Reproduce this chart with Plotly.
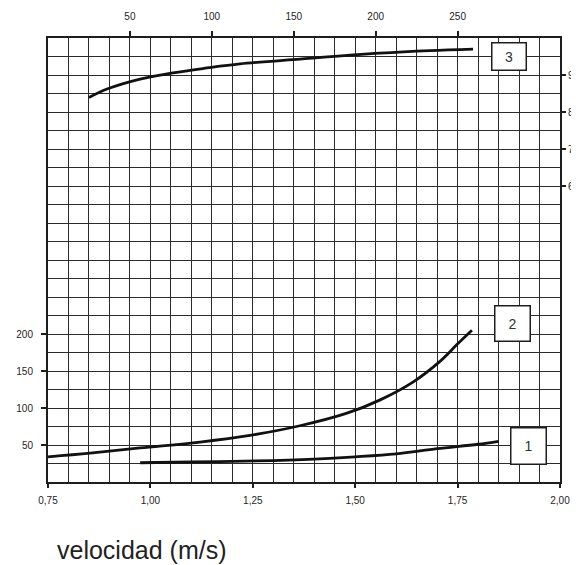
import plotly.graph_objects as go

# Curve 1 (bottom axis: velocidad, left axis)
c1_v = [0.975, 1.10, 1.20, 1.30, 1.40, 1.50, 1.60, 1.70, 1.80, 1.85]
c1_y = [26, 27, 28, 29, 31, 34, 38, 45, 51, 55]

# Curve 2 (bottom axis, left axis)
c2_v = [0.75, 0.853, 0.975, 1.121, 1.243, 1.365, 1.480, 1.561, 1.641, 1.707, 1.749, 1.785]
c2_y = [34, 39, 46, 54, 63, 76, 93, 111, 135, 163, 186, 205]

# Curve 3 (top axis, right axis)
c3_x = [25.0, 36.0, 56.2, 76.3, 97.0, 117.2, 153.8, 202.6, 233.2, 259.4]
c3_y = [83.9, 86.2, 88.9, 90.6, 91.9, 93.0, 94.3, 95.9, 96.6, 97.0]

bottom_ticks = [0.75, 1.00, 1.25, 1.50, 1.75, 2.00]
bottom_text = ["0,75", "1,00", "1,25", "1,50", "1,75", "2,00"]
left_ticks = [50, 100, 150, 200]
top_ticks = [50, 100, 150, 200, 250]
right_ticks = [60, 70, 80, 90]

INK = "#1e1e1e"
GRID = "#2b2b2b"
tickfont = dict(family="Liberation Sans, Arial, sans-serif", size=10, color=INK)

fig = go.Figure()
line = dict(color="#111111", width=2.8, shape="spline", smoothing=1.0)
fig.add_trace(go.Scatter(x=c1_v, y=c1_y, mode="lines", line=line, showlegend=False))
fig.add_trace(go.Scatter(x=c2_v, y=c2_y, mode="lines", line=line, showlegend=False))
fig.add_trace(go.Scatter(x=c3_x, y=c3_y, mode="lines", line=line, showlegend=False,
                         xaxis="x2", yaxis="y2"))

fig.update_layout(
    width=579, height=557,
    margin=dict(l=40, r=27, t=30, b=83),
    paper_bgcolor="white", plot_bgcolor="white",
    xaxis=dict(range=[0.75, 2.00], tickmode="array", tickvals=bottom_ticks,
               ticktext=bottom_text, ticks="outside", ticklen=4, tickwidth=1.5,
               tickcolor=INK, tickfont=tickfont, showgrid=True, gridcolor=GRID,
               gridwidth=1.4, showline=True, linecolor=INK, linewidth=2,
               zeroline=False, ticklabelstandoff=4, automargin=False,
               minor=dict(tickmode="linear", tick0=0.75, dtick=0.05, showgrid=True,
                          gridcolor=GRID, gridwidth=1.4, ticks="")),
    yaxis=dict(range=[0, 600], tickmode="array", tickvals=left_ticks,
               ticks="outside", ticklen=5, tickwidth=1.5, tickcolor=INK,
               tickfont=tickfont, showgrid=True, gridcolor=GRID, gridwidth=1.4,
               showline=True, linecolor=INK, linewidth=2, zeroline=False,
               ticklabelstandoff=6, automargin=False,
               minor=dict(tickmode="linear", tick0=0, dtick=25, showgrid=True,
                          gridcolor=GRID, gridwidth=1.4, ticks="")),
    xaxis2=dict(range=[0, 312.5], overlaying="x", side="top", tickmode="array",
                tickvals=top_ticks, ticks="outside", ticklen=5, tickwidth=1.5,
                tickcolor=INK, tickfont=tickfont, showgrid=False, showline=True,
                linecolor=INK, linewidth=2, zeroline=False, ticklabelstandoff=7,
                automargin=False),
    yaxis2=dict(range=[-20, 100], overlaying="y", side="right", tickmode="array",
                tickvals=right_ticks, ticks="outside", ticklen=4, tickwidth=1.5,
                tickcolor=INK, tickfont=tickfont, showgrid=False, showline=True,
                linecolor=INK, linewidth=2, zeroline=False, ticklabelstandoff=0,
                automargin=False),
)

boxfont = dict(family="Liberation Sans, Arial, sans-serif", size=14, color="#333333")
for label, bx, by, bw, bh in [("3", 0.901, 0.959, 33, 26),
                              ("2", 0.908, 0.358, 34, 34),
                              ("1", 0.9375, 0.082, 34, 35)]:
    fig.add_annotation(text=label, xref="paper", yref="paper", x=bx, y=by,
                       xanchor="center", yanchor="middle", showarrow=False,
                       font=boxfont, bgcolor="white", bordercolor=INK,
                       borderwidth=1.5, borderpad=0, width=bw, height=bh)

fig.add_annotation(text="velocidad (m/s)", xref="paper", yref="paper",
                   x=0.0137, y=-0.153, xanchor="left", yanchor="middle",
                   showarrow=False,
                   font=dict(family="Liberation Sans, Arial, sans-serif", size=25,
                             color="#222222"))

fig.write_html("out.html")
